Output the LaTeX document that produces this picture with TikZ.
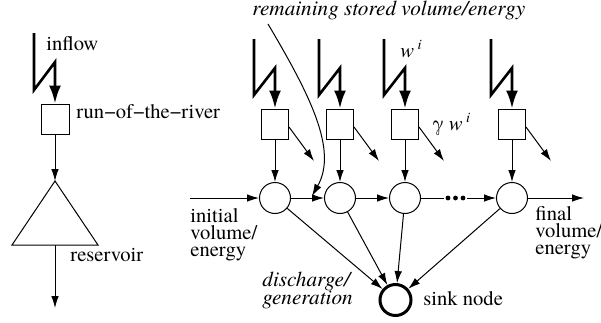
\documentclass[tikz,border=0pt]{standalone}
\usepackage{fontspec}
\setmainfont{texgyretermes-regular.otf}[ItalicFont=texgyretermes-italic.otf, BoldFont=texgyretermes-bold.otf]
\usetikzlibrary{arrows.meta}
\begin{document}
\begin{tikzpicture}[x=0.5pt,y=-0.5pt,
  thinline/.style={line width=0.5pt},
  arr/.style={thinline,-{Latex[length=6pt,width=3.8pt]}},
  boltline/.style={line width=1.3pt, line join=miter, -{Latex[length=9pt,width=6pt]}},
  box/.style={draw, line width=0.5pt, minimum width=13.5pt, minimum height=15pt, inner sep=0pt},
  circ/.style={draw, circle, line width=0.5pt, minimum size=15.5pt, inner sep=0pt},
  sinkc/.style={draw, circle, line width=1.5pt, minimum size=15.5pt, inner sep=0pt},
  lbl/.style={font=\fontsize{10.3pt}{12pt}\selectfont, inner sep=0pt},
  ilbl/.style={font=\fontsize{10.6pt}{12pt}\selectfont\itshape, inner sep=0pt},
  ]
\useasboundingbox (0,0) rectangle (601,322);

% ---- left column: run-of-the-river and reservoir ----
\node[box, minimum width=14pt] (r0) at (55,119) {};
\coordinate (b0a) at (34,33);
\coordinate (b0b) at (34,90);
\coordinate (b0c) at (55,62);
\draw[boltline] (b0a) -- (b0b) -- (b0c) -- (r0);
\node[lbl, anchor=base west] (inflow) at (46,50) {inflow};
\node[lbl, anchor=base west] (ror) at (76,118) {run−of−the−river};

\coordinate (ta) at (55,181);
\coordinate (tl) at (12,245);
\coordinate (tr) at (98,245);
\coordinate (tb) at (55,245);
\coordinate (tout) at (55,308);
\draw[thinline] (ta) -- (tr) -- (tl) -- cycle;
\draw[arr] (r0) -- (ta);
\draw[arr] (tb) -- (tout);
\node[lbl, anchor=base west] (resv) at (70,261) {reservoir};

% ---- right: network ----
\foreach \i/\x in {1/275,2/340,3/405,4/512}{
  \node[circ] (c\i) at (\x,198) {};
  \node[box] (r\i) at (\x,124) {};
  \coordinate (ba\i) at (\x-21,39);
  \coordinate (bb\i) at (\x-21,95);
  \coordinate (bc\i) at (\x,68);
  \draw[boltline] (ba\i) -- (bb\i) -- (bc\i) -- (r\i);
  \draw[arr] (r\i) -- (c\i);
  \coordinate (sp\i) at (\x+39,161);
  \draw[arr] ([yshift=-1.5pt]r\i.east) -- (sp\i);
}

\node[sinkc] (sink) at (395.5,300) {};
\foreach \i in {1,2,3,4}{ \draw[arr] (c\i) -- (sink); }

\coordinate (init) at (190,198);
\coordinate (fin) at (584,198);
\draw[arr] (init) -- (c1);
\draw[arr] (c1) -- (c2);
\draw[arr] (c2) -- (c3);
\coordinate (d1) at (444,198);
\coordinate (d2) at (467,198);
\draw[thinline] (c3) -- (d1);
\draw[arr] (d2) -- (c4);
\fill (448,198) circle[radius=1.2pt];
\fill (455.5,198) circle[radius=1.2pt];
\fill (463,198) circle[radius=1.2pt];
\draw[arr] (c4) -- (fin);

% curved pointer
\coordinate (cs) at (268,24);
\coordinate (ct) at (312,196);
\draw[arr] (cs) .. controls (310,95) and (338,150) .. (ct);

% labels
\node[ilbl, anchor=base west] (rem) at (252,15) {remaining stored volume/energy};
\node[lbl, anchor=base west] (wi) at (400,57) {\textit{w}\,\textsuperscript{\textit{i}}};
\node[lbl, anchor=base west] (gwi) at (432,130) {γ \textit{w}\,\textsuperscript{\textit{i}}};
\node[lbl, anchor=north west, align=left, font=\fontsize{10.3pt}{8.4pt}\selectfont] (initl) at (190,208) {initial\\volume/\\energy};
\node[lbl, anchor=north west, align=left, font=\fontsize{10.3pt}{8.4pt}\selectfont] (finl) at (535,206.5) {final\\volume/\\energy};
\node[ilbl, anchor=north west, align=left, font=\fontsize{10.6pt}{9pt}\selectfont\itshape] (dis) at (262,271.5) {discharge/\\generation};
\node[lbl, anchor=base west] (sinkl) at (423,305) {sink node};
\end{tikzpicture}
\end{document}
